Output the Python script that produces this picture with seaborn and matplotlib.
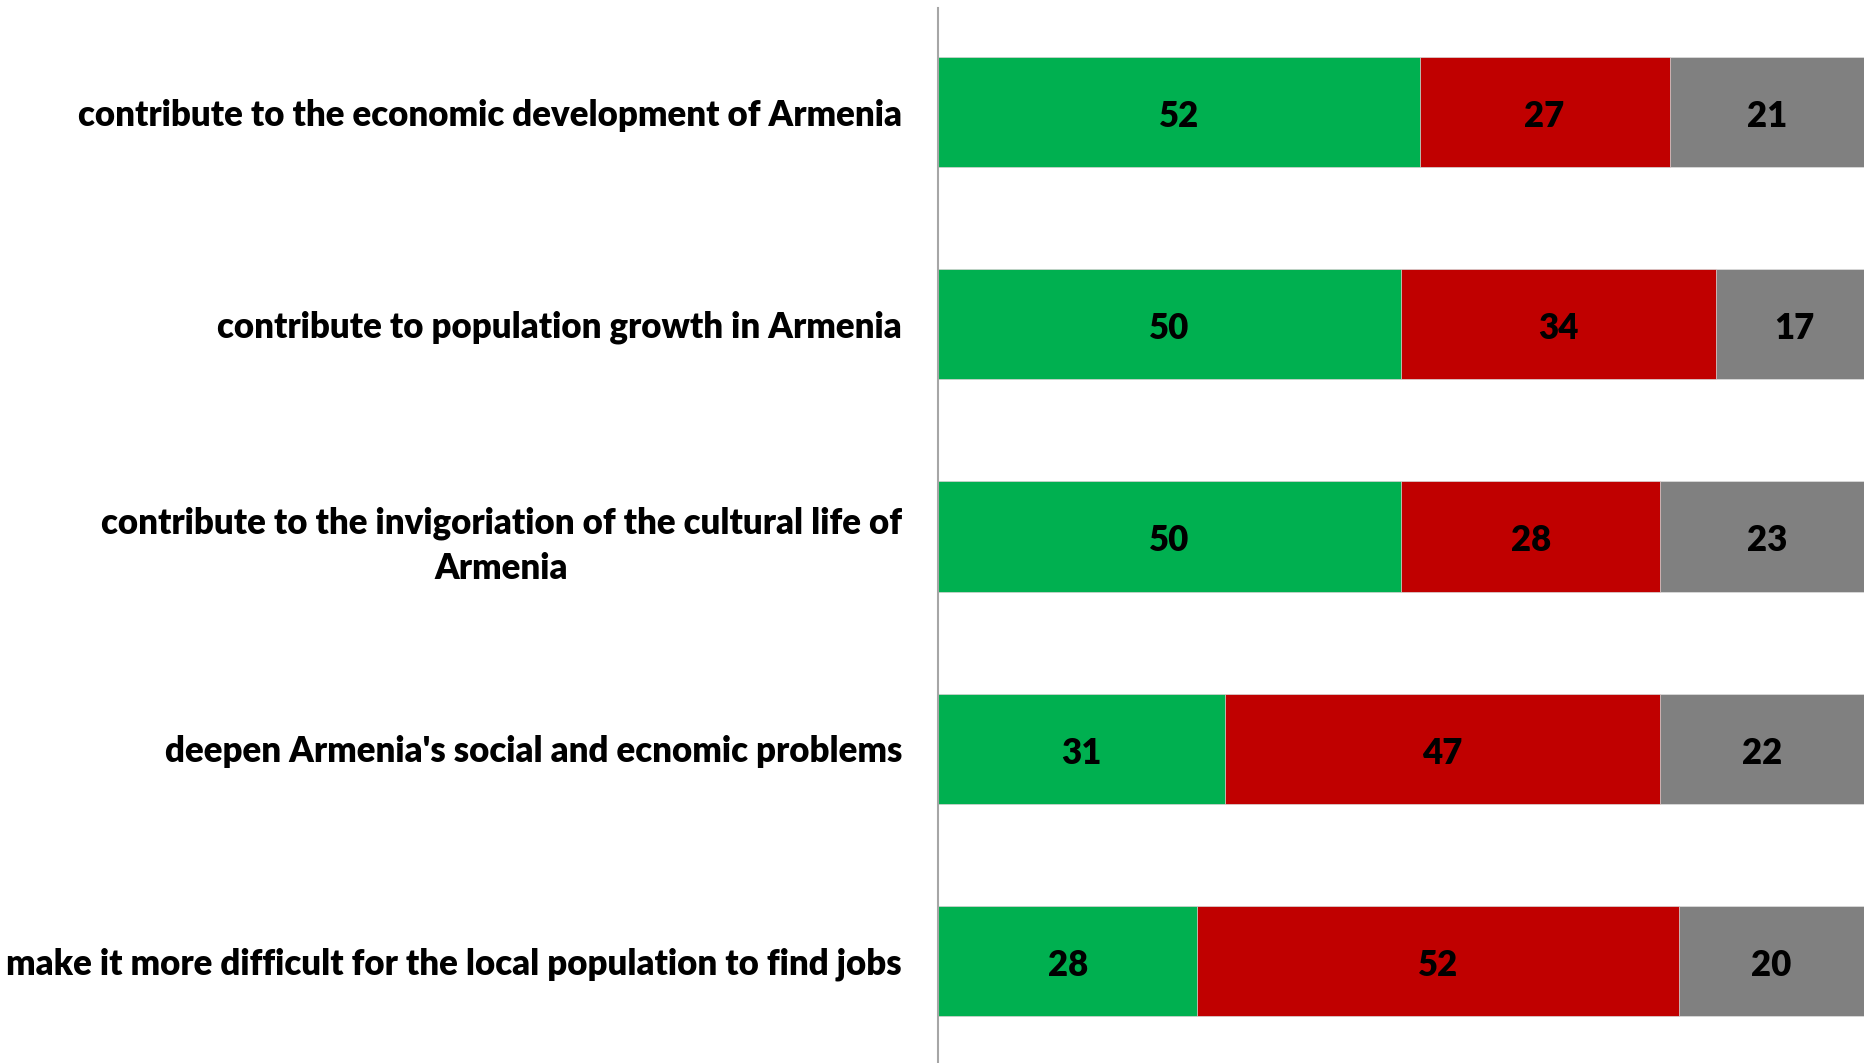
#!/usr/bin/env python3
"""Stacked horizontal bars: expected effects on Armenia."""
import matplotlib
matplotlib.use("Agg")
import matplotlib.pyplot as plt
import numpy as np
import pandas as pd
import seaborn as sns

CATEGORIES = [
    "contribute to the economic development of Armenia",
    "contribute to population growth in Armenia",
    "contribute to the invigoriation of the cultural life of\nArmenia",
    "deepen Armenia's social and ecnomic problems",
    "make it more difficult for the local population to find jobs",
]
GREEN_VALS = [52, 50, 50, 31, 28]
RED_VALS = [27, 34, 28, 47, 52]
GREY_VALS = [21, 17, 23, 22, 20]

COLORS = ["#00B050", "#C00000", "#808080"]


def main() -> None:
    sns.set_theme(style="white")
    plt.rcParams["font.family"] = ["Lato", "DejaVu Sans"]

    df = pd.DataFrame({
        "cat": CATEGORIES,
        "green": GREEN_VALS,
        "red": RED_VALS,
        "grey": GREY_VALS,
    })
    df["c1"] = df["green"]
    df["c2"] = df["green"] + df["red"]
    df["c3"] = df["c2"] + df["grey"]

    fig = plt.figure(figsize=(18.64, 10.63), dpi=100)
    ax = fig.add_axes([938 / 1864, 0.0, 1 - 938 / 1864, 1 - 8 / 1063])

    # layered cumulative bars -> stacked look
    for col, color in zip(["c3", "c2", "c1"], COLORS[::-1]):
        sns.barplot(data=df, y="cat", x=col, color=color, width=0.52,
                    edgecolor="#E0E0E0", linewidth=0.5, saturation=1, ax=ax)

    # value labels centred in each segment
    for i, row in df.iterrows():
        starts = [0, row["c1"], row["c2"]]
        for start, val in zip(starts, [row["green"], row["red"], row["grey"]]):
            ax.text(start + val / 2, i + 0.02, f"{val}", ha="center", va="center",
                    fontsize=25, fontweight="heavy", color="black")

    ax.set_xlim(0, 100)
    ax.set_ylim(4.48, -0.49)
    ax.set_xlabel("")
    ax.set_ylabel("")
    ax.set_xticks([])
    ax.tick_params(axis="y", length=0, pad=26, labelsize=25)
    for lab in ax.get_yticklabels():
        lab.set_fontweight("heavy")
        lab.set_multialignment("center")
        lab.set_linespacing(1.45)
        lab.set_color("black")

    for side in ["top", "right", "bottom"]:
        ax.spines[side].set_visible(False)
    ax.spines["left"].set_color("#A6A6A6")
    ax.spines["left"].set_linewidth(1.5)

    fig.savefig("out.png", dpi=100)
    plt.close(fig)


if __name__ == "__main__":
    main()
